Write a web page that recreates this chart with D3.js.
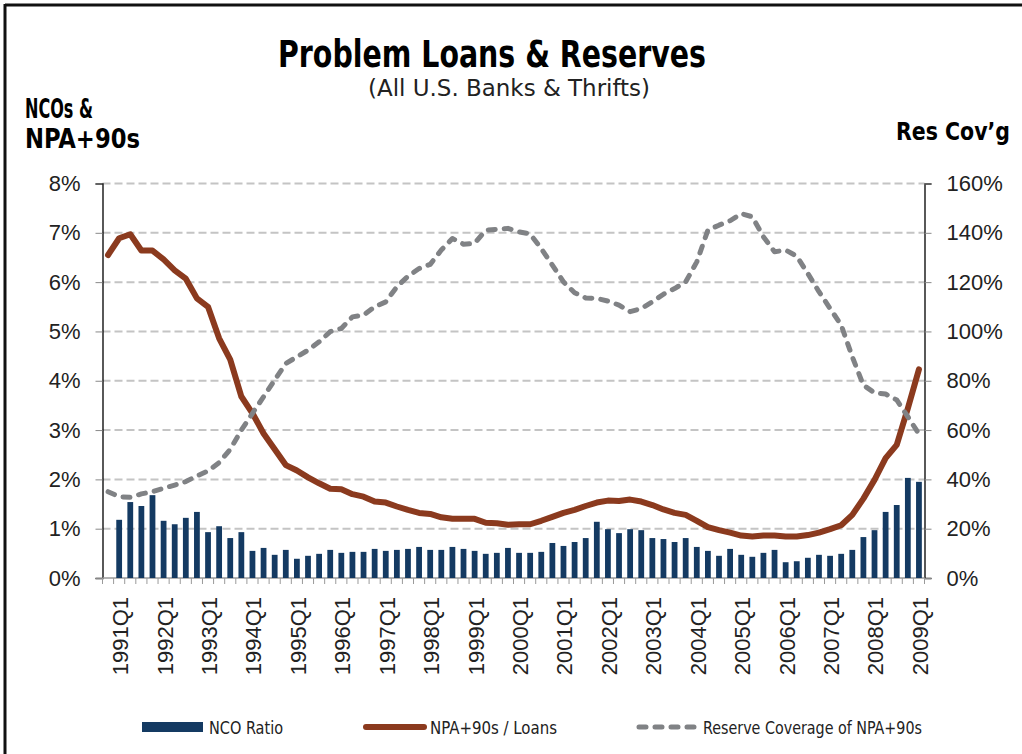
<!DOCTYPE html>
<html>
<head>
<meta charset="utf-8">
<script src="https://cdn.jsdelivr.net/npm/d3@7/dist/d3.min.js"></script>
<style>
  html, body { margin: 0; padding: 0; background: #fff; }
  svg { display: block; }
  .narrow { font-family: "Liberation Sans Narrow", "DejaVu Sans Condensed", "Liberation Sans", sans-serif; font-stretch: condensed; }
  .tick-label { font-family: "Liberation Sans", "DejaVu Sans", sans-serif; fill: #222; }
</style>
</head>
<body>
<svg id="chart" width="1022" height="754"></svg>
<script>
// Quarterly categories, 1990Q4 through 2009Q1
const quarters = ["1990Q4"];
for (let y = 1991; y <= 2009; y++) {
  for (let q = 1; q <= 4; q++) {
    if (y === 2009 && q > 1) break;
    quarters.push(y + "Q" + q);
  }
}

const tickLabels = ["1991Q1","1992Q1","1993Q1","1994Q1","1995Q1","1996Q1","1997Q1",
  "1998Q1","1999Q1","2000Q1","2001Q1","2002Q1","2003Q1","2004Q1","2005Q1","2006Q1",
  "2007Q1","2008Q1","2009Q1"];

// Net charge-off ratio (%), no value reported for 1990Q4
const ncoRatio = [null,
  1.18,1.54,1.46,1.68,1.16,1.09,1.22,1.34,0.93,1.05,0.81,0.93,0.55,0.61,0.47,0.57,0.39,0.45,0.49,0.57,0.51,
  0.53,0.53,0.59,0.55,0.57,0.59,0.63,0.57,0.57,0.63,0.59,0.55,0.49,0.51,0.61,0.51,0.51,0.53,0.71,0.65,0.73,0.81,1.14,
  0.99,0.91,0.99,0.97,0.81,0.79,0.73,0.81,0.63,0.55,0.45,0.59,0.47,0.43,0.51,0.57,0.32,0.34,0.41,0.47,0.45,0.49,0.57,0.83,0.97,1.34,1.48,2.03,1.95];

// Non-performing assets + 90 days past due, as % of loans
const npaLoans = [
  6.55,6.89,6.97,6.64,6.64,6.46,6.24,6.07,5.67,5.50,4.86,4.43,3.68,3.34,2.93,2.61,2.29,2.18,2.04,1.92,1.81,1.80,
  1.70,1.65,1.55,1.53,1.45,1.38,1.32,1.30,1.23,1.20,1.20,1.20,1.12,1.11,1.08,1.09,1.09,1.16,1.24,1.32,1.38,1.46,1.53,
  1.57,1.56,1.59,1.55,1.48,1.39,1.32,1.28,1.16,1.03,0.97,0.92,0.86,0.84,0.86,0.86,0.84,0.84,0.87,0.92,0.99,1.07,1.28,1.61,1.99,2.43,2.70,3.44,4.23];

// Loan loss reserves as % of NPA+90s
const reserveCoverage = [
  35.0,33.0,32.7,34.1,35.0,36.4,37.7,39.1,41.4,43.4,46.8,52.2,60.0,66.8,73.5,80.3,87.0,89.7,92.4,95.8,99.9,101.2,
  105.9,106.6,110.0,112.0,118.1,122.4,125.5,127.2,133.0,137.7,135.4,135.7,141.1,141.4,141.8,140.4,139.5,133.6,126.9,120.1,115.7,113.6,113.4,
  112.3,110.7,108.0,109.3,112.0,115.1,117.4,120.1,128.2,141.1,143.1,144.9,147.8,146.5,138.4,132.3,133.0,130.5,123.5,116.1,109.3,102.6,89.7,78.2,75.1,74.6,72.2,65.4,58.4];

const leftTicks = [0,1,2,3,4,5,6,7,8];
const rightTicks = [0,20,40,60,80,100,120,140,160];

const COLORS = { bar: "#143a62", npa: "#8b3a1e", cov: "#808285", grid: "#c4c4c4" };

const svg = d3.select("#chart");
const plot = { left: 102.5, right: 924.5, top: 183.5, bottom: 578 };

const x = d3.scaleBand().domain(quarters).range([plot.left, plot.right]).padding(0);
const yL = d3.scaleLinear().domain([0, 8]).range([plot.bottom, plot.top]);
const yR = d3.scaleLinear().domain([0, 160]).range([plot.bottom, plot.top]);

// outer frame (top and left edges)
svg.append("line").attr("x1", 5).attr("x2", 1022).attr("y1", 5).attr("y2", 5)
  .attr("stroke", "#111").attr("stroke-width", 3);
svg.append("line").attr("x1", 5).attr("x2", 5).attr("y1", 4).attr("y2", 754)
  .attr("stroke", "#111").attr("stroke-width", 3);

// titles
svg.append("text").attr("class", "narrow").attr("x", 492).attr("y", 67)
  .attr("text-anchor", "middle").attr("font-size", 37).attr("font-weight", "bold")
  .attr("textLength", 428).attr("lengthAdjust", "spacingAndGlyphs")
  .text("Problem Loans & Reserves");
svg.append("text").attr("class", "narrow").attr("x", 509).attr("y", 96)
  .attr("text-anchor", "middle").attr("font-size", 23).attr("fill", "#222")
  .attr("textLength", 282).attr("lengthAdjust", "spacingAndGlyphs")
  .text("(All U.S. Banks & Thrifts)");
svg.append("text").attr("class", "narrow").attr("x", 25).attr("y", 118)
  .attr("font-size", 27).attr("font-weight", "bold")
  .attr("textLength", 68).attr("lengthAdjust", "spacingAndGlyphs").text("NCOs &");
svg.append("text").attr("class", "narrow").attr("x", 25).attr("y", 148)
  .attr("font-size", 27).attr("font-weight", "bold")
  .attr("textLength", 115).attr("lengthAdjust", "spacingAndGlyphs").text("NPA+90s");
svg.append("text").attr("class", "narrow").attr("x", 896).attr("y", 140)
  .attr("font-size", 24).attr("font-weight", "bold")
  .attr("textLength", 114).attr("lengthAdjust", "spacingAndGlyphs").text("Res Cov\u2019g");

// horizontal dashed gridlines
svg.append("g").selectAll("line").data(leftTicks.filter(d => d > 0)).join("line")
  .attr("x1", plot.left).attr("x2", plot.right)
  .attr("y1", d => yL(d)).attr("y2", d => yL(d))
  .attr("stroke", COLORS.grid).attr("stroke-width", 2).attr("stroke-dasharray", "8,4");

// left axis
const axL = svg.append("g").attr("transform", `translate(${plot.left},0)`)
  .call(d3.axisLeft(yL).tickValues(leftTicks).tickSize(7).tickPadding(15).tickFormat(d => d + "%"));
axL.select(".domain").attr("stroke", "#000").attr("stroke-width", 1.3);
axL.selectAll(".tick line").attr("stroke", "#888");
axL.selectAll(".tick text").attr("class", "tick-label").attr("font-size", 22);

// right axis
const axR = svg.append("g").attr("transform", `translate(${plot.right},0)`)
  .call(d3.axisRight(yR).tickValues(rightTicks).tickSize(7).tickPadding(15).tickFormat(d => d + "%"));
axR.select(".domain").attr("stroke", "#000").attr("stroke-width", 1.3);
axR.selectAll(".tick line").attr("stroke", "#888");
axR.selectAll(".tick text").attr("class", "tick-label").attr("font-size", 22);

// category axis: baseline with ticks on band boundaries
const bounds = quarters.map(q => x(q)).concat([plot.right]);
svg.append("line").attr("x1", plot.left).attr("x2", plot.right)
  .attr("y1", plot.bottom).attr("y2", plot.bottom).attr("stroke", "#9a9a9a").attr("stroke-width", 1.5);
svg.append("g").selectAll("line").data(bounds).join("line")
  .attr("x1", d => d).attr("x2", d => d)
  .attr("y1", plot.bottom).attr("y2", plot.bottom + 6)
  .attr("stroke", "#9a9a9a").attr("stroke-width", 1);
svg.append("g").selectAll("text").data(tickLabels).join("text")
  .attr("class", "tick-label").attr("font-size", 22)
  .attr("text-anchor", "end")
  .attr("transform", d => `translate(${x(d) + x.bandwidth() / 2 + 1},597) rotate(-90)`)
  .attr("dy", "0.36em")
  .text(d => d);

// NCO bars
const barW = x.bandwidth() * 0.52;
svg.append("g").selectAll("rect")
  .data(quarters.map((q, i) => ({ q, v: ncoRatio[i] })).filter(d => d.v != null))
  .join("rect")
  .attr("x", d => x(d.q) + (x.bandwidth() - barW) / 2)
  .attr("width", barW)
  .attr("y", d => yL(d.v))
  .attr("height", d => yL(0) - yL(d.v))
  .attr("fill", COLORS.bar);

// NPA+90s / Loans line
const lineL = d3.line().x((d, i) => x(quarters[i]) + x.bandwidth() / 2).y(d => yL(d));
svg.append("path").datum(npaLoans).attr("d", lineL)
  .attr("fill", "none").attr("stroke", COLORS.npa).attr("stroke-width", 6)
  .attr("stroke-linejoin", "round").attr("stroke-linecap", "round");

// Reserve coverage dashed line
const lineR = d3.line().x((d, i) => x(quarters[i]) + x.bandwidth() / 2).y(d => yR(d));
svg.append("path").datum(reserveCoverage).attr("d", lineR)
  .attr("fill", "none").attr("stroke", COLORS.cov).attr("stroke-width", 5)
  .attr("stroke-dasharray", "7,9").attr("stroke-linecap", "round").attr("stroke-linejoin", "round");

// legend
const lg = svg.append("g");
lg.append("rect").attr("x", 142).attr("y", 722).attr("width", 61).attr("height", 10).attr("fill", COLORS.bar);
lg.append("text").attr("class", "narrow").attr("x", 209).attr("y", 734).attr("font-size", 18).attr("fill", "#222")
  .attr("textLength", 74).attr("lengthAdjust", "spacingAndGlyphs").text("NCO Ratio");
lg.append("line").attr("x1", 366).attr("x2", 424).attr("y1", 727).attr("y2", 727)
  .attr("stroke", COLORS.npa).attr("stroke-width", 6).attr("stroke-linecap", "round");
lg.append("text").attr("class", "narrow").attr("x", 430).attr("y", 734).attr("font-size", 18).attr("fill", "#222")
  .attr("textLength", 127).attr("lengthAdjust", "spacingAndGlyphs").text("NPA+90s / Loans");
lg.append("line").attr("x1", 639).attr("x2", 697).attr("y1", 727).attr("y2", 727)
  .attr("stroke", COLORS.cov).attr("stroke-width", 5).attr("stroke-dasharray", "7,9").attr("stroke-linecap", "round");
lg.append("text").attr("class", "narrow").attr("x", 703).attr("y", 734).attr("font-size", 18).attr("fill", "#222")
  .attr("textLength", 219).attr("lengthAdjust", "spacingAndGlyphs").text("Reserve Coverage of NPA+90s");
</script>
</body>
</html>
